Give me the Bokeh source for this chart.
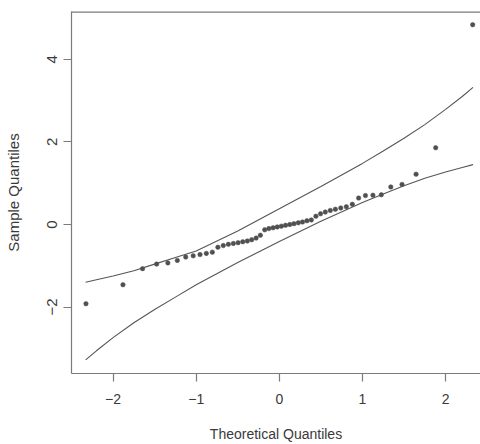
from bokeh.plotting import figure
from bokeh.models import FixedTicker, Span, Range1d
from bokeh.embed import file_html
from bokeh.resources import INLINE

# Theoretical normal quantiles (x) for the 50 sample points
theoretical = [-2.326, -1.881, -1.645, -1.476, -1.341, -1.227, -1.126, -1.036, -0.954, -0.878,
               -0.806, -0.739, -0.674, -0.613, -0.553, -0.496, -0.440, -0.385, -0.332, -0.279,
               -0.228, -0.176, -0.126, -0.075, -0.025, 0.025, 0.075, 0.126, 0.176, 0.228,
               0.279, 0.332, 0.385, 0.440, 0.496, 0.553, 0.613, 0.674, 0.739, 0.806,
               0.878, 0.954, 1.036, 1.126, 1.227, 1.341, 1.476, 1.645, 1.881, 2.326]
# Sorted sample quantiles (y)
sample = [-1.92, -1.46, -1.07, -0.96, -0.93, -0.87, -0.79, -0.76, -0.73, -0.70,
          -0.67, -0.55, -0.51, -0.48, -0.46, -0.44, -0.42, -0.40, -0.37, -0.33,
          -0.26, -0.13, -0.10, -0.08, -0.06, -0.04, -0.02, 0.00, 0.02, 0.04,
          0.06, 0.09, 0.11, 0.20, 0.26, 0.30, 0.34, 0.37, 0.40, 0.43,
          0.49, 0.64, 0.70, 0.71, 0.72, 0.91, 0.97, 1.22, 1.86, 4.84]
# Confidence envelope
env_x = [-2.33, -2.2, -2.0, -1.75, -1.5, -1.25, -1.0, -0.5, 0.0, 0.5, 1.0, 1.25, 1.5, 1.75, 2.0, 2.2, 2.33]
env_upper = [-1.40, -1.34, -1.25, -1.12, -0.96, -0.80, -0.64, -0.16, 0.38, 0.92, 1.48, 1.78, 2.09, 2.42, 2.79, 3.10, 3.32]
env_lower = [-3.28, -3.06, -2.74, -2.38, -2.06, -1.76, -1.46, -0.92, -0.41, 0.08, 0.53, 0.74, 0.94, 1.12, 1.27, 1.38, 1.45]

x_ticks = [-2, -1, 0, 1, 2]
y_ticks = [-2, 0, 2, 4]
x_lim = (-2.50, 2.42)
y_lim = (-3.61, 5.16)

FONT = "Liberation Sans"
TEXT = "#3a3a3a"
BOX = "#7a7a7a"

p = figure(width=480, height=444, output_backend="svg", toolbar_location=None,
           x_range=Range1d(*x_lim), y_range=Range1d(*y_lim),
           min_border_left=71, min_border_right=0, min_border_top=11, min_border_bottom=69)
p.grid.visible = False
p.outline_line_color = None
p.background_fill_color = "white"

for ax in (p.xaxis[0], p.yaxis[0]):
    ax.axis_line_color = BOX
    ax.axis_line_width = 1.2
    ax.major_tick_line_color = BOX
    ax.major_tick_line_width = 1.2
    ax.major_tick_out = 8
    ax.major_tick_in = 0
    ax.minor_tick_line_color = None
    ax.major_label_text_font = FONT
    ax.major_label_text_color = TEXT
    ax.axis_label_text_font = FONT
    ax.axis_label_text_font_style = "normal"
    ax.axis_label_text_color = TEXT

p.xaxis.major_label_text_font_size = "14px"
p.xaxis.axis_label_text_font_size = "14px"
p.yaxis.major_label_text_font_size = "15px"
p.yaxis.axis_label_text_font_size = "15px"

p.xaxis.ticker = FixedTicker(ticks=x_ticks)
p.yaxis.ticker = FixedTicker(ticks=y_ticks)
p.xaxis.axis_label = "Theoretical Quantiles"
p.yaxis.axis_label = "Sample Quantiles"
p.xaxis.major_label_standoff = 12
p.xaxis.axis_label_standoff = 19
p.yaxis.major_label_orientation = "vertical"
p.yaxis.major_label_standoff = 6
p.yaxis.axis_label_standoff = 23

# top edge of the box
p.add_layout(Span(location=y_lim[1], dimension="width", line_color=BOX, line_width=2.4))

p.line(env_x, env_upper, line_color="#555555", line_width=1.1)
p.line(env_x, env_lower, line_color="#555555", line_width=1.1)
p.scatter(theoretical, sample, size=4.5, fill_color="#505050", line_color="#505050", line_width=0.5)

open("out.html", "w").write(file_html(p, INLINE))
